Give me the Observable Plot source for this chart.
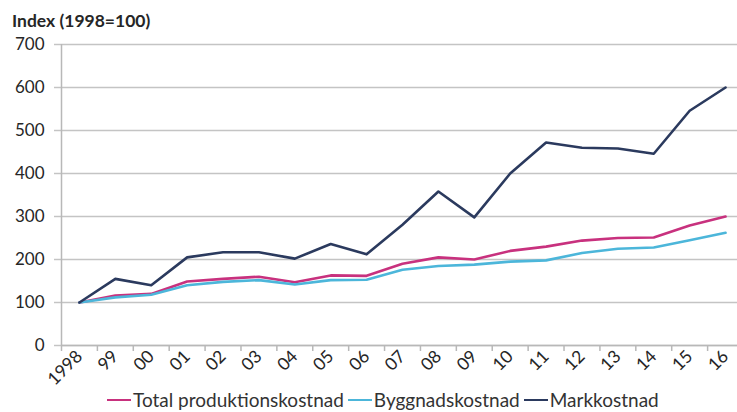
<!DOCTYPE html>
<html>
<head>
<meta charset="utf-8">
<script src="https://cdn.jsdelivr.net/npm/d3@7"></script>
<script src="https://cdn.jsdelivr.net/npm/@observablehq/plot@0.6"></script>
<style>
  html, body { margin: 0; padding: 0; background: #fff; }
  #wrap { position: relative; width: 737px; height: 412px; overflow: hidden; font-family: Lato, "Open Sans", sans-serif; color: #262626; }
  #title { position: absolute; left: 12px; top: 10px; font-weight: bold; font-size: 17.5px; }
  #chart { position: absolute; left: 0; top: 34px; }
  #legend { position: absolute; left: 107px; top: 388px; display: flex; align-items: center; font-size: 19px; color: #333; white-space: nowrap; }
  .item { display: flex; align-items: center; margin-right: 4px; }
  .sw { width: 24px; height: 0; border-top: 2.6px solid; margin-right: 2px; }
</style>
</head>
<body>
<div id="wrap">
  <div id="title">Index (1998=100)</div>
  <div id="chart"></div>
  <div id="legend"></div>
</div>
<script>
// Index series, 1998 = 100
const years = [1998, 1999, 2000, 2001, 2002, 2003, 2004, 2005, 2006, 2007, 2008, 2009, 2010, 2011, 2012, 2013, 2014, 2015, 2016];
const totalCost = [100, 116, 120, 149, 155, 160, 147, 163, 162, 190, 205, 200, 220, 230, 244, 250, 251, 279, 300];
const buildingCost = [100, 112, 118, 140, 148, 152, 142, 152, 153, 176, 185, 188, 195, 198, 215, 225, 228, 245, 262];
const landCost = [100, 155, 140, 205, 217, 217, 202, 236, 212, 281, 358, 298, 400, 472, 460, 458, 446, 546, 600];
const yTicks = [0, 100, 200, 300, 400, 500, 600, 700];

const seriesNames = ["Total produktionskostnad", "Byggnadskostnad", "Markkostnad"];
const seriesColors = ["#c8317e", "#4cb6da", "#2b3a5e"];
const seriesValues = [totalCost, buildingCost, landCost];

const rows = seriesNames.flatMap((name, i) =>
  years.map((year, j) => ({series: name, year, value: seriesValues[i][j]}))
);

// Category boundaries sit halfway between years
const boundaries = d3.range(years[0] - 0.5, years[years.length - 1] + 1, 1);
const yearLabel = (d) => d === 1998 ? "1998" : String(d % 100).padStart(2, "0");

const plot = Plot.plot({
  width: 737,
  height: 360,
  marginLeft: 61,
  marginRight: 0,
  marginTop: 10,
  marginBottom: 49,
  style: {fontFamily: "Lato, 'Open Sans', sans-serif", fontSize: "17px", color: "#262626", background: "#fff"},
  x: {type: "linear", domain: [boundaries[0], boundaries[boundaries.length - 1]], range: [61, 743]},
  y: {domain: [0, 700]},
  color: {domain: seriesNames, range: seriesColors},
  marks: [
    Plot.gridY(yTicks, {stroke: "#c4c4c4", strokeOpacity: 1, strokeWidth: 1.6}),
    Plot.axisY(yTicks, {tickSize: 7, tickPadding: 10, label: null, stroke: "#c4c4c4", strokeWidth: 1.5, fontSize: 17}),
    Plot.ruleX([boundaries[0]], {y1: 0, y2: 700, stroke: "#b8b8b8", strokeWidth: 1.5}),
    Plot.ruleY([0], {stroke: "#b8b8b8", strokeWidth: 1.5}),
    Plot.axisX(boundaries, {tickSize: 6, tickFormat: () => "", label: null, stroke: "#b8b8b8", strokeWidth: 1.5}),
    Plot.axisX(years, {tickSize: 0, tickPadding: 8, tickRotate: -45, tickFormat: yearLabel, label: null, fontSize: 17.5}),
    Plot.line(rows, {x: "year", y: "value", z: "series", stroke: "series", strokeWidth: 2.6, strokeLinejoin: "round"})
  ]
});
document.getElementById("chart").appendChild(plot);

// Legend with line swatches
const legend = d3.select("#legend");
seriesNames.forEach((name, i) => {
  const item = legend.append("div").attr("class", "item");
  item.append("div").attr("class", "sw").style("border-top-color", seriesColors[i]);
  item.append("span").text(name);
});
</script>
</body>
</html>
